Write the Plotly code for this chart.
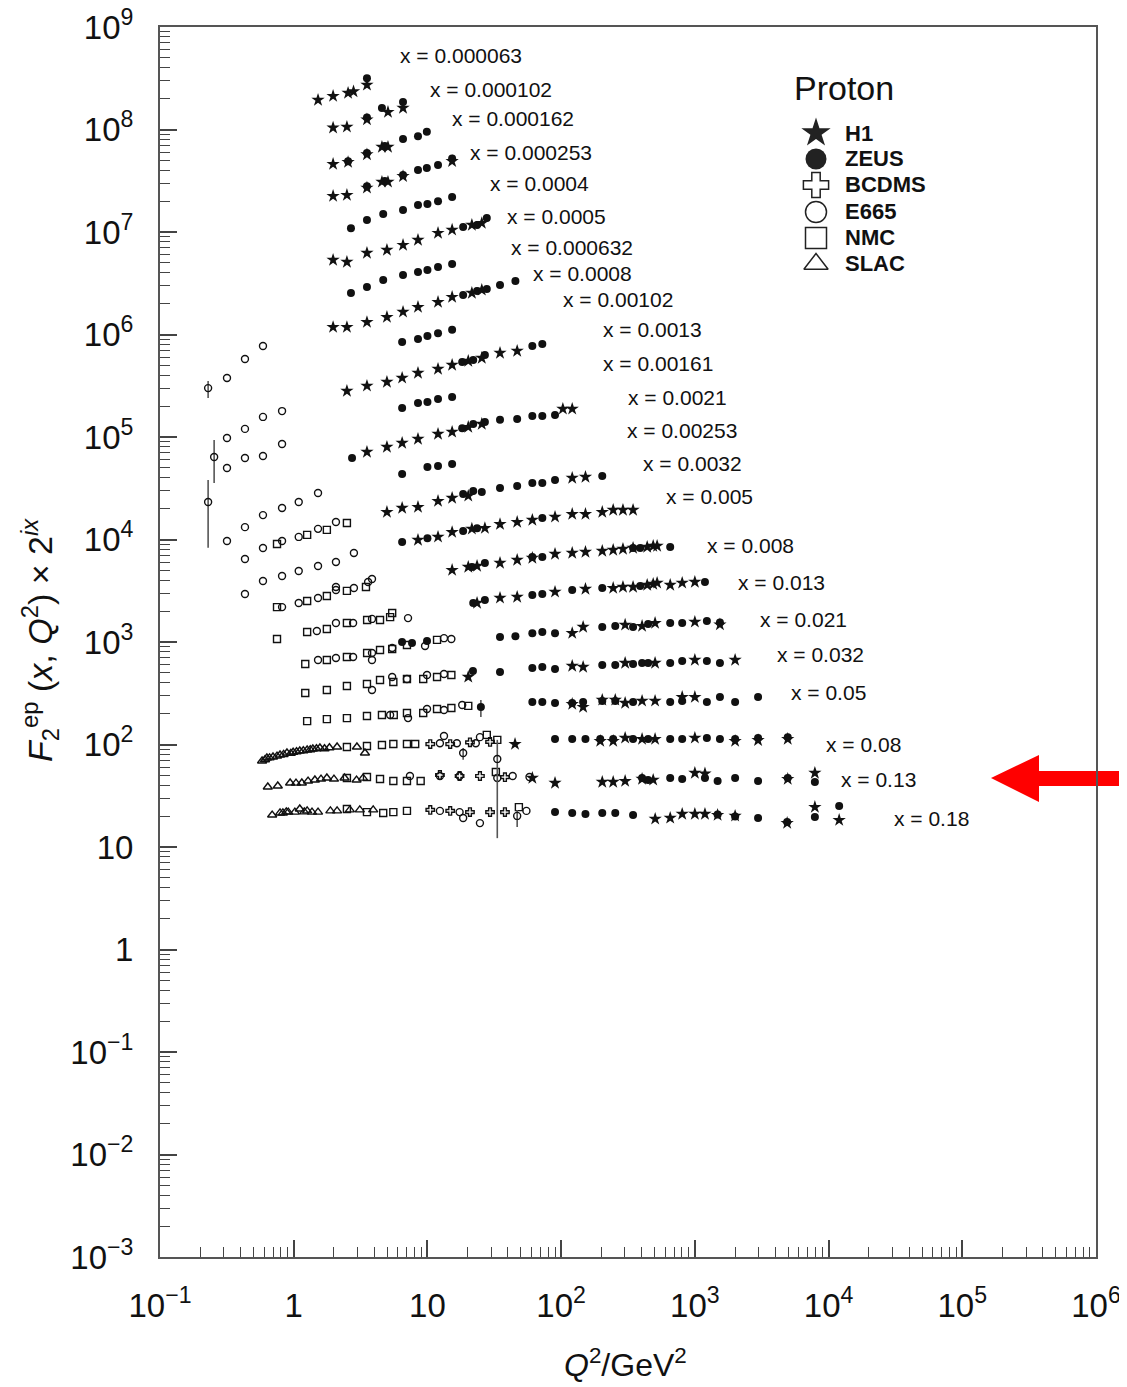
import plotly.graph_objects as go
import numpy as np

# ---------------- data (Q^2 in GeV^2, plotted value F2 * 2^ix) ----------------
h1_q2 = [1.52, 1.97, 2.55, 2.8, 3.53,
         1.97, 2.5, 3.53, 5.07, 6.57,
         1.97, 2.55, 3.53, 4.57, 5.07,
         1.97, 2.5, 3.53, 4.57, 5.07, 6.57, 15.3,
         1.97, 2.5, 3.53, 4.98, 6.57, 8.5, 12, 15.3, 21.5, 25.5,
         1.97, 2.5, 3.53, 4.98, 6.57, 8.5, 12, 15.3, 21.5, 25.5,
         2.5, 3.53, 4.98, 6.47, 8.5, 12, 15.3, 20.2, 25.5, 34.9, 46.9,
         3.53, 4.98, 6.47, 8.5, 12, 15.3, 20.2, 25.5, 103, 121,
         4.98, 6.47, 8.5, 12, 15.3, 20.2, 121, 152,
         8.5, 12, 15.3, 21.5, 26.9, 34.9, 46.9, 60.9, 90, 121, 152, 203, 245, 290, 345,
         15.3, 20.2, 23.5, 34.9, 46.9, 60.9, 90, 121, 152, 203, 245, 290, 345, 440, 488, 522,
         23.5, 34.9, 46.9, 90, 152, 245, 290, 345, 440, 488, 522, 654, 804, 1000,
         121, 146, 301, 403, 504, 1000, 1540,
         20.2, 121, 146, 301, 504, 1000, 2000,
         121, 146, 203, 254, 301, 403, 504, 804, 1000,
         45.2, 196, 245, 301, 403, 504, 1000, 2000, 2970, 4950,
         60.9, 90, 203, 245, 301, 403, 488, 1000, 1190, 4950, 7900,
         505, 654, 804, 1000, 1190, 1480, 2000, 4900, 7900, 12000]
h1_f2 = [1.94e8, 2.12e8, 2.27e8, 2.35e8, 2.72e8,
         1.04e8, 1.06e8, 1.25e8, 1.48e8, 1.62e8,
         4.6e7, 4.8e7, 5.7e7, 6.75e7, 6.75e7,
         2.24e7, 2.29e7, 2.7e7, 3.08e7, 3.08e7, 3.5e7, 4.9e7,
         5.33e6, 5.1e6, 6.24e6, 6.67e6, 7.46e6, 8.35e6, 9.77e6, 1.05e7, 1.17e7, 1.22e7,
         1.18e6, 1.18e6, 1.32e6, 1.48e6, 1.66e6, 1.85e6, 2.07e6, 2.32e6, 2.54e6, 2.72e6,
         2.81e5, 3.15e5, 3.44e5, 3.77e5, 4.21e5, 4.61e5, 5.04e5, 5.51e5, 5.9e5, 6.6e5, 6.9e5,
         7.14e4, 7.99e4, 8.74e4, 9.56e4, 1.07e5, 1.12e5, 1.25e5, 1.34e5, 1.88e5, 1.88e5,
         1.85e4, 2.03e4, 2.07e4, 2.37e4, 2.54e4, 2.66e4, 3.98e4, 4.07e4,
         9.89e3, 1.06e4, 1.18e4, 1.27e4, 1.29e4, 1.41e4, 1.48e4, 1.55e4, 1.66e4, 1.77e4, 1.77e4, 1.85e4, 1.94e4, 1.94e4, 1.94e4,
         5.03e3, 5.39e3, 5.51e3, 5.9e3, 6.31e3, 6.6e3, 7.22e3, 7.38e3, 7.55e3, 7.72e3, 7.9e3, 8.08e3, 8.26e3, 8.45e3, 8.64e3, 8.64e3,
         2.4e3, 2.69e3, 2.75e3, 3.08e3, 3.29e3, 3.36e3, 3.44e3, 3.44e3, 3.6e3, 3.68e3, 3.77e3, 3.6e3, 3.77e3, 3.85e3,
         1.22e3, 1.4e3, 1.47e3, 1.43e3, 1.53e3, 1.57e3, 1.48e3,
         456, 583, 570, 624, 624, 667, 667,
         248, 232, 272, 272, 254, 266, 266, 290, 290,
         101, 108, 108, 116, 113, 113, 116, 108, 110, 113,
         47.1, 42.1, 43.1, 43.1, 44.0, 46.1, 45.1, 52.7, 52.0, 46.0, 52.7,
         18.8, 19.2, 21.0, 21.0, 21.0, 20.5, 20.1, 17.1, 24.5, 18.3]

zeus_q2 = [3.53,
           3.53, 4.57, 6.57,
           2.55, 3.53, 4.8, 6.57, 8.5, 9.9,
           3.53, 4.8, 6.57, 8.5, 9.9, 12, 15.3,
           2.68, 3.53, 4.67, 6.57, 8.5, 10, 12, 15.3,
           18.5, 23.5, 27.8,
           2.68, 3.53, 4.67, 6.57, 8.5, 10, 12, 15.3,
           18.5, 23.5, 27.8, 34.9, 45.5,
           6.47, 8.5, 10, 12, 15.3,
           18.2, 22, 26.9, 60.9, 72.3,
           6.47, 8.5, 10, 12, 15.3,
           2.73, 18.2, 22, 26.9, 34.9, 46.9, 60.9, 72.3, 90,
           6.47, 10, 12, 15.3,
           18.5, 22, 25.5, 34.9, 46.9, 60.9, 72.3, 90, 203,
           6.47, 10, 18.5, 23.5, 72.3,
           21.5, 26.9, 60.9, 72.3, 345, 390, 654,
           22, 26.9, 60.9, 72.3, 121, 203, 390, 1190,
           6.46, 7.67, 9.93, 34.9, 45.5, 60.9, 72.3, 90, 203, 254, 345, 447, 654, 804, 1230, 1540,
           21.9, 34.9, 60.9, 72.3, 90, 203, 254, 345, 403, 447, 654, 804, 1230, 1540,
           60.9, 72.3, 90, 121, 146, 203, 254, 345, 654, 804, 1230, 1540, 2000, 2970,
           90, 121, 152, 196, 245, 345, 447, 654, 804, 1230, 1540, 2000, 2970, 4950,
           403, 447, 654, 804, 1190, 1480, 2000, 2970, 4950, 7900,
           90, 121, 152, 203, 254, 345, 1480, 2000, 2970, 4900, 7900, 12000]
zeus_f2 = [3.17e8,
           1.31e8, 1.62e8, 1.85e8,
           4.9e7, 5.9e7, 6.9e7, 8.1e7, 8.6e7, 9.5e7,
           2.8e7, 3.15e7, 3.6e7, 4.03e7, 4.2e7, 4.5e7, 5.2e7,
           1.09e7, 1.31e7, 1.5e7, 1.64e7, 1.83e7, 1.88e7, 2.0e7, 2.19e7,
           1.12e7, 1.17e7, 1.37e7,
           2.54e6, 2.9e6, 3.4e6, 3.8e6, 4.07e6, 4.26e6, 4.56e6, 4.87e6,
           2.43e6, 2.66e6, 2.78e6, 3.04e6, 3.33e6,
           8.45e5, 9.04e5, 9.67e5, 1.03e6, 1.11e6,
           5.39e5, 5.64e5, 6.31e5, 7.73e5, 8.1e5,
           1.92e5, 2.15e5, 2.19e5, 2.35e5, 2.45e5,
           6.24e4, 1.22e5, 1.34e5, 1.4e5, 1.47e5, 1.5e5, 1.6e5, 1.6e5, 1.64e5,
           4.36e4, 5.1e4, 5.21e4, 5.46e4,
           2.78e4, 2.97e4, 2.9e4, 3.18e4, 3.33e4, 3.56e4, 3.56e4, 3.8e4, 4.17e4,
           9.46e3, 1.03e4, 1.21e4, 1.29e4, 1.62e4,
           5.39e3, 5.9e3, 6.75e3, 6.75e3, 8.26e3, 8.26e3, 8.45e3,
           2.4e3, 2.57e3, 2.87e3, 2.94e3, 3.22e3, 3.36e3, 3.52e3, 3.85e3,
           1.0e3, 977, 1.02e3, 1.12e3, 1.14e3, 1.22e3, 1.25e3, 1.22e3, 1.4e3, 1.43e3, 1.4e3, 1.5e3, 1.53e3, 1.53e3, 1.6e3, 1.55e3,
           521, 509, 557, 570, 546, 597, 597, 610, 624, 624, 624, 653, 653, 624,
           260, 260, 254, 254, 260, 266, 266, 260, 260, 266, 260, 290, 260, 290,
           113, 113, 113, 113, 113, 113, 113, 113, 113, 116, 113, 113, 116, 118,
           47.0, 45.1, 47.1, 46.1, 47.0, 44.0, 47.1, 44.0, 47.1, 43.1,
           21.9, 21.5, 21.0, 21.5, 21.5, 20.5, 20.8, 19.8, 19.2, 17.5, 19.6, 25.1]
zeus_err_q2 = [25.1]
zeus_err_f2 = [232]
zeus_err_up = [40]
zeus_err_dn = [47]

bcdms_q2 = [10.5, 14.8, 20.8, 29.4,
            12.4, 17.4, 24.7, 38,
            10.5, 14.8, 20.8, 29.4, 38]
bcdms_f2 = [101, 101, 105, 106,
            50.4, 49.3, 49.3, 48,
            23, 22.5, 21.9, 21.9, 21.9]

e665_q2 = [0.317, 0.432, 0.589,
           0.317, 0.432, 0.589, 0.818,
           0.317, 0.432, 0.589, 0.818,
           0.317, 0.432, 0.589, 0.818, 1.09, 1.52,
           0.432, 0.589, 0.818, 1.09, 1.52, 2.07,
           0.432, 0.589, 0.818, 1.09, 1.52, 2.07, 2.82,
           0.818, 1.09, 1.52, 2.07, 2.07, 2.82, 3.6, 3.85,
           1.49, 2.07, 2.78, 3.85, 7.16,
           1.52, 2.07, 2.78, 3.85, 3.85, 5.45, 9.6, 13.3, 15.1,
           3.85, 5.45, 7.03, 9.93, 13.3,
           5.26, 7.16, 9.93, 13.3, 18.2,
           12.4, 13.3, 16.6, 23, 24.7,
           7.4, 12.4, 17.4, 33.3, 43.4, 58,
           12.4, 17.4, 18.5, 24.7, 55]
e665_f2 = [3.77e5, 5.77e5, 7.73e5,
           9.77e4, 1.2e5, 1.57e5, 1.79e5,
           4.99e4, 6.24e4, 6.53e4, 8.55e4,
           9.66e3, 1.32e4, 1.73e4, 2.03e4, 2.32e4, 2.84e4,
           6.46e3, 8.26e3, 9.66e3, 1.06e4, 1.27e4, 1.48e4,
           2.94e3, 3.93e3, 4.4e3, 4.93e3, 5.51e3, 6.03e3, 7.38e3,
           2.19e3, 2.4e3, 2.69e3, 3.22e3, 3.44e3, 3.36e3, 3.85e3, 4.12e3,
           1.28e3, 1.53e3, 1.53e3, 1.68e3, 1.71e3,
           667, 698, 714, 781, 667, 874, 914, 1.09e3, 1.07e3,
           340, 456, 436, 477, 488,
           194, 181, 222, 217, 243,
           103, 121, 103, 103, 118,
           49.3, 49.3, 49.3, 47.1, 49.3, 48.2,
           22.5, 21.9, 19.2, 17.1, 22.5]
e665_err_q2 = [0.229, 0.254, 0.229, 18.5, 33.3, 46.9]
e665_err_f2 = [3.0e5, 6.38e4, 2.32e4, 82.7, 72.3, 20.1]
e665_err_up = [5.2e4, 2.97e4, 1.48e4, 9.8, 38.7, 2.9]
e665_err_dn = [6.0e4, 2.82e4, 1.49e4, 11.8, 60.1, 4.4]

nmc_q2 = [0.75, 1.26, 1.77, 2.5,
          0.75, 1.26, 1.77, 2.5, 3.47,
          0.75, 1.26, 1.77, 2.5, 3.54, 4.42, 5.26, 5.45,
          1.22, 1.77, 2.5, 3.54, 4.42, 5.45, 7.03, 11.8,
          1.22, 1.77, 2.5, 3.53, 4.42, 5.56, 7.03, 9.3, 11.8, 15.1,
          1.26, 1.77, 2.5, 3.53, 4.57, 5.6, 7.03, 9.3, 11.8, 15.1, 20.2,
          2.5, 3.53, 4.57, 5.56, 7.03, 8.1, 27.8, 33.3,
          2.5, 3.53, 4.42, 5.56, 7.03, 8.9, 32.5,
          2.5, 3.53, 4.67, 5.56, 7.03, 48.3]
nmc_f2 = [9.04e3, 1.11e4, 1.24e4, 1.45e4,
          2.19e3, 2.51e3, 2.81e3, 3.15e3, 3.44e3,
          1.07e3, 1.25e3, 1.34e3, 1.53e3, 1.64e3, 1.64e3, 1.75e3, 1.92e3,
          610, 667, 714, 781, 836, 855, 935, 1.05e3,
          318, 340, 372, 389, 426, 407, 436, 436, 456, 477,
          169, 177, 181, 190, 194, 194, 203, 203, 222, 227, 238,
          94.6, 96.7, 98.9, 101, 101, 101, 124, 111,
          47.1, 48.2, 46.1, 44.0, 44.0, 44.0, 54.0,
          23.5, 21.9, 21.5, 21.9, 22.5, 24.5]

slac_q2 = [0.58, 0.61, 0.63, 0.66, 0.70, 0.75, 0.79, 0.84, 0.89, 0.95, 0.99, 1.05,
           1.11, 1.18, 1.26, 1.33, 1.39, 1.48, 1.57, 1.7, 1.85, 2.11, 2.97, 3.41,
           0.64, 0.76, 0.94, 1.04, 1.15, 1.28, 1.44, 1.6, 1.77, 2.0, 2.4, 2.95, 3.3,
           0.69, 0.79, 0.83, 0.88, 0.91, 1.02, 1.11, 1.2, 1.26, 1.37, 1.52, 1.88,
           2.11, 2.63, 3.12, 3.93]
slac_f2 = [69, 71, 73.8, 74, 75.5, 77, 79, 80, 82.7, 82, 84, 85,
           86.5, 87, 88.4, 89, 90.4, 91, 92.5, 91, 93, 94.6, 94.6, 82.7,
           38.5, 39.4, 42.1, 42, 42.1, 44, 45.1, 46, 47.1, 46, 47.1, 45, 47,
           20.5, 21.5, 21.5, 22, 21.9, 21.9, 23.5, 22, 22.5, 21.9, 21.9, 22.5,
           22.5, 23, 23, 23]

bin_labels = ["0.000063", "0.000102", "0.000162", "0.000253", "0.0004", "0.0005",
              "0.000632", "0.0008", "0.00102", "0.0013", "0.00161", "0.0021",
              "0.00253", "0.0032", "0.005", "0.008", "0.013", "0.021", "0.032",
              "0.05", "0.08", "0.13", "0.18"]
label_q2 = [6.03, 10.1, 14.8, 20.1, 28.4, 38, 40.7, 59.6, 100, 199, 199, 306,
            301, 396, 589, 1190, 2030, 2960, 3960, 5050, 9230, 11900, 29800]
label_f2 = [5.33e8, 2.48e8, 1.29e8, 5.9e7, 2.94e7, 1.43e7, 7.14e6, 3.98e6, 2.22e6,
            1.11e6, 5.27e5, 2.45e5, 1.15e5, 5.57e4, 2.6e4, 8.65e3, 3.77e3, 1.64e3,
            747, 325, 101, 45.1, 18.8]

legend_names = ["H1", "ZEUS", "BCDMS", "E665", "NMC", "SLAC"]

# ---------------- styling ----------------
FONT = "Liberation Sans, Arial, Helvetica, sans-serif"
INK = "#111111"
BODY = 8                      # default page margin of the html body
WIN_W, WIN_H = 1127, 1387
W, H = WIN_W - BODY, WIN_H - BODY
# wanted plot area in window pixels: x 160..1096, y 27..1257
PL, PR, PT, PB = 160, 1096, 27, 1257
ML, MR, MT, MB = PL - BODY, WIN_W - PR, PT - BODY, WIN_H - PB
PW, PH = PR - PL, PB - PT

def px2paper(px, py):
    return (px - PL) / PW, (PB - py) / PH

fig = go.Figure()

def add(q2, f2, symbol, size, name, open_=False, err=None):
    mk = dict(symbol=symbol, size=size, color=INK)
    if open_:
        mk["line"] = dict(color=INK, width=1.4)
    tr = dict(x=q2, y=f2, mode="markers", marker=mk, name=name,
              showlegend=False, hoverinfo="x+y")
    if err is not None:
        tr["error_y"] = dict(type="data", symmetric=False, array=err[0],
                             arrayminus=err[1], color="#555", thickness=1.6, width=0)
    fig.add_trace(go.Scatter(**tr))

add(slac_q2, slac_f2, "triangle-up-open", 8, "SLAC", True)
add(nmc_q2, nmc_f2, "square-open", 7, "NMC", True)
add(e665_q2, e665_f2, "circle-open", 7, "E665", True)
add(e665_err_q2, e665_err_f2, "circle-open", 7, "E665", True,
    err=(e665_err_up, e665_err_dn))
add(bcdms_q2, bcdms_f2, "cross-open", 7, "BCDMS", True)
add(zeus_q2, zeus_f2, "circle", 8, "ZEUS")
add(zeus_err_q2, zeus_err_f2, "circle", 8, "ZEUS", err=(zeus_err_up, zeus_err_dn))
add(h1_q2, h1_f2, "star", 10, "H1")

# bin labels
for lab, q, f in zip(bin_labels, label_q2, label_f2):
    fig.add_annotation(x=np.log10(q), y=np.log10(f), xref="x", yref="y",
                       text="x = " + lab, showarrow=False, xanchor="left",
                       yanchor="middle", font=dict(family=FONT, size=21, color=INK))

# manual legend on an overlay axis (0..1 over the plot area)
leg_symbols = ["star", "circle", "cross-open", "circle-open", "square-open", "triangle-up-open"]
leg_sizes = [22, 21, 21, 21, 21, 21]
leg_rows_px = [133, 159, 185, 212, 238, 264]
for name, sym, sz, rpx in zip(legend_names, leg_symbols, leg_sizes, leg_rows_px):
    lx, ly = px2paper(816, rpx)
    mk = dict(symbol=sym, size=sz, color="#222")
    if "open" in sym:
        mk["line"] = dict(color="#333", width=1.5)
    fig.add_trace(go.Scatter(x=[lx], y=[ly], xaxis="x2", yaxis="y2", mode="markers",
                             marker=mk, showlegend=False, hoverinfo="skip"))
    tx, ty = px2paper(843, rpx)
    fig.add_annotation(x=tx, y=ty, xref="paper", yref="paper", text="<b>%s</b>" % name,
                       showarrow=False, xanchor="left", yanchor="middle",
                       font=dict(family=FONT, size=22, color=INK))
px_, py_ = px2paper(844, 88)
fig.add_annotation(x=px_, y=py_, xref="paper", yref="paper", text="Proton",
                   showarrow=False, xanchor="center", yanchor="middle",
                   font=dict(family=FONT, size=34, color=INK))

# axis titles
tx, ty = px2paper(40, 640)
fig.add_annotation(x=tx, y=ty, xref="paper", yref="paper", textangle=-90,
                   text="<i>F</i><sub>2</sub><sup>ep</sup> (<i>x</i>, <i>Q</i><sup>2</sup>) × 2<sup><i>ix</i></sup>",
                   showarrow=False, xanchor="center", yanchor="middle",
                   font=dict(family=FONT, size=34, color=INK))
tx, ty = px2paper(625, 1363)
fig.add_annotation(x=tx, y=ty, xref="paper", yref="paper",
                   text="<i>Q</i><sup>2</sup>/GeV<sup>2</sup>",
                   showarrow=False, xanchor="center", yanchor="middle",
                   font=dict(family=FONT, size=32, color=INK))

# red arrow (outside the frame, pointing at the x=0.13 bin)
arrow_px = [(991, 778), (1039, 755), (1039, 771), (1135, 771), (1135, 786),
            (1039, 786), (1039, 802)]
pts = [px2paper(a, b) for a, b in arrow_px]
path = "M " + " L ".join("%.5f,%.5f" % p for p in pts) + " Z"
fig.add_shape(type="path", path=path, xref="paper", yref="paper",
              fillcolor="#ff0000", line=dict(width=0), layer="below")

def sup_label(e):
    if e == 0:
        return "1"
    if e == 1:
        return "10"
    return "10<sup>%s</sup>" % (str(e).replace("-", "−"))

xexp = list(range(-1, 7))
yexp = list(range(-3, 10))
xminor = [m * 10.0 ** e for e in range(-1, 6) for m in range(2, 10)]
yminor = [m * 10.0 ** e for e in range(-3, 9) for m in range(2, 10)]

axis_common = dict(type="log", showgrid=False, zeroline=False, showline=True,
                   mirror=True, linecolor="#555", linewidth=2, ticks="inside",
                   ticklen=17, tickwidth=1.6, tickcolor="#444",
                   tickfont=dict(family=FONT, size=33, color=INK),
                   ticklabelstandoff=18, automargin=False,
                   ticklabeloverflow="allow")

fig.update_layout(
    width=W, height=H,
    margin=dict(l=ML, r=MR, t=MT, b=MB, autoexpand=False),
    paper_bgcolor="white", plot_bgcolor="white",
    showlegend=False,
    xaxis=dict(range=[-1, 6], tickvals=[10.0 ** e for e in xexp],
               ticktext=[sup_label(e) for e in xexp],
               minor=dict(tickvals=xminor, ticks="inside", ticklen=10,
                          tickwidth=1.4, tickcolor="#444"),
               **axis_common),
    yaxis=dict(range=[-3, 9], tickvals=[10.0 ** e for e in yexp],
               ticktext=[sup_label(e) for e in yexp],
               minor=dict(tickvals=yminor, ticks="inside", ticklen=10,
                          tickwidth=1.4, tickcolor="#444"),
               **axis_common),
    xaxis2=dict(overlaying="x", range=[0, 1], visible=False, fixedrange=True),
    yaxis2=dict(overlaying="y", range=[0, 1], visible=False, fixedrange=True),
)

fig.write_html("out.html")
